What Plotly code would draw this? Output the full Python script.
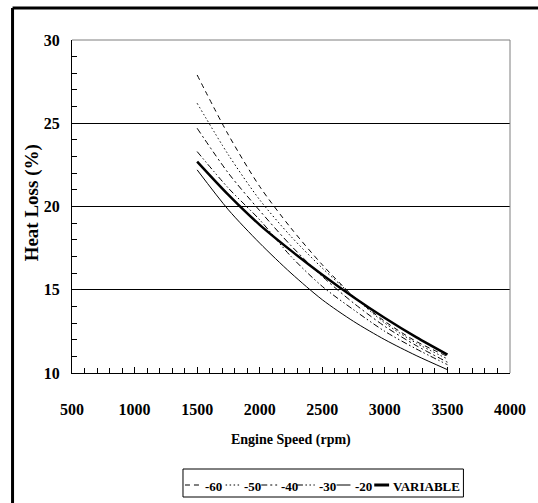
import plotly.graph_objects as go

# ---------------- data ----------------
rpm = [1500, 1750, 2000, 2250, 2500, 2750, 3000, 3250, 3500]
series_names = ["-60", "-50", "-40", "-30", "-20", "VARIABLE"]
loss_m60 = [27.9, 24.3, 21.2, 18.7, 16.5, 14.6, 13.1, 11.9, 11.0]
loss_m50 = [26.2, 23.1, 20.4, 18.2, 16.3, 14.6, 13.0, 11.8, 10.85]
loss_m40 = [24.7, 22.0, 19.75, 17.65, 15.8, 14.2, 12.8, 11.65, 10.65]
loss_m30 = [23.3, 21.1, 19.2, 17.0, 15.2, 13.8, 12.5, 11.45, 10.5]
loss_m20 = [22.2, 19.8, 17.8, 16.0, 14.4, 13.1, 12.0, 11.05, 10.2]
loss_var = [22.7, 20.7, 18.9, 17.35, 15.9, 14.55, 13.3, 12.15, 11.1]
x_ticks = [500, 1000, 1500, 2000, 2500, 3000, 3500, 4000]
y_ticks = [10, 15, 20, 25, 30]

series_values = [loss_m60, loss_m50, loss_m40, loss_m30, loss_m20, loss_var]

# ---------------- styles ----------------
dashes = ["5px,4px", "1.5px,2.5px", "6px,3px,2px,3px", "6px,2.5px,1.5px,2.5px,1.5px,2.5px", "solid", "solid"]
widths = [1, 1, 1, 1, 1, 2.5]

FONT = "Liberation Serif"
W, H = 538, 503
L, R, T, B = 72, 24, 40, 130
PW, PH = W - L - R, H - T - B


def px(xp):
    return (xp - L) / PW


def py(yp):
    return (H - B - yp) / PH


fig = go.Figure()
for name, vals, d, w in zip(series_names, series_values, dashes, widths):
    fig.add_trace(go.Scatter(
        x=rpm, y=vals, mode="lines", name=name, showlegend=False,
        line=dict(color="black", width=w, dash=d, shape="spline", smoothing=0.8),
    ))

fig.update_layout(
    width=W, height=H,
    margin=dict(l=L, r=R, t=T, b=B),
    paper_bgcolor="white", plot_bgcolor="white",
    font=dict(family=FONT, color="black"),
    xaxis=dict(
        range=[500, 4000], tickvals=x_ticks, ticktext=[str(v) for v in x_ticks],
        showgrid=False, zeroline=False, showline=True, linecolor="black", linewidth=1,
        ticks="inside", ticklen=6, tickcolor="black", tickwidth=1,
        minor=dict(dtick=100, ticks="inside", ticklen=5, tickcolor="black", tickwidth=1, showgrid=False),
        tickfont=dict(family=FONT, size=16, color="black", weight="bold"),
        ticklabelstandoff=22,
    ),
    yaxis=dict(
        range=[10, 30], tickvals=y_ticks, ticktext=[str(v) for v in y_ticks],
        showgrid=True, gridcolor="black", gridwidth=1, zeroline=False,
        showline=True, linecolor="black", linewidth=1,
        ticks="inside", ticklen=6, tickcolor="black", tickwidth=1,
        minor=dict(dtick=1, ticks="inside", ticklen=5, tickcolor="black", tickwidth=1, showgrid=False),
        tickfont=dict(family=FONT, size=16, color="black", weight="bold"),
        ticklabelstandoff=8,
    ),
)

shapes = []
# plot-area top & right border (gray)
shapes.append(dict(type="line", xref="paper", yref="paper", x0=0, x1=1, y0=1, y1=1,
                   line=dict(color="#7f7f7f", width=1)))
shapes.append(dict(type="line", xref="paper", yref="paper", x0=1, x1=1, y0=0, y1=1,
                   line=dict(color="#7f7f7f", width=1)))
# outer chart frame (left and top visible)
shapes.append(dict(type="line", xref="paper", yref="paper", x0=px(12), x1=px(560), y0=py(8), y1=py(8),
                   line=dict(color="black", width=3)))
shapes.append(dict(type="line", xref="paper", yref="paper", x0=px(12), x1=px(12), y0=py(8), y1=py(520),
                   line=dict(color="black", width=3)))
# legend box
shapes.append(dict(type="rect", xref="paper", yref="paper", x0=px(184), x1=px(467), y0=py(469), y1=py(497),
                   line=dict(color="black", width=1), fillcolor="white"))

annotations = [
    dict(text="<b>Engine Speed (rpm)</b>", xref="paper", yref="paper", x=px(293), y=py(440),
         xanchor="center", yanchor="middle", showarrow=False, font=dict(family=FONT, size=14, color="black")),
    dict(text="<b>Heat Loss (%)</b>", xref="paper", yref="paper", x=px(32), y=py(203),
         xanchor="center", yanchor="middle", textangle=-90, showarrow=False,
         font=dict(family=FONT, size=19, color="black")),
]

# legend entries
sym_x0 = [186, 227, 263, 299, 339, 377]
sym_len = [15, 15, 16, 18, 14, 15]
txt_x = [204, 244, 281, 319, 356, 394]
leg_y = 485
for name, d, w, x0, sl, tx in zip(series_names, dashes, widths, sym_x0, sym_len, txt_x):
    shapes.append(dict(type="line", xref="paper", yref="paper", x0=px(x0), x1=px(x0 + sl), y0=py(leg_y), y1=py(leg_y),
                       line=dict(color="black", width=w + (0.5 if w > 1 else 0), dash=d)))
    annotations.append(dict(text="<b>" + name + "</b>", xref="paper", yref="paper", x=px(tx), y=py(leg_y + 1),
                            xanchor="left", yanchor="middle", showarrow=False,
                            font=dict(family=FONT, size=13, color="black")))

fig.update_layout(shapes=shapes, annotations=annotations)
fig.write_html("out.html")
